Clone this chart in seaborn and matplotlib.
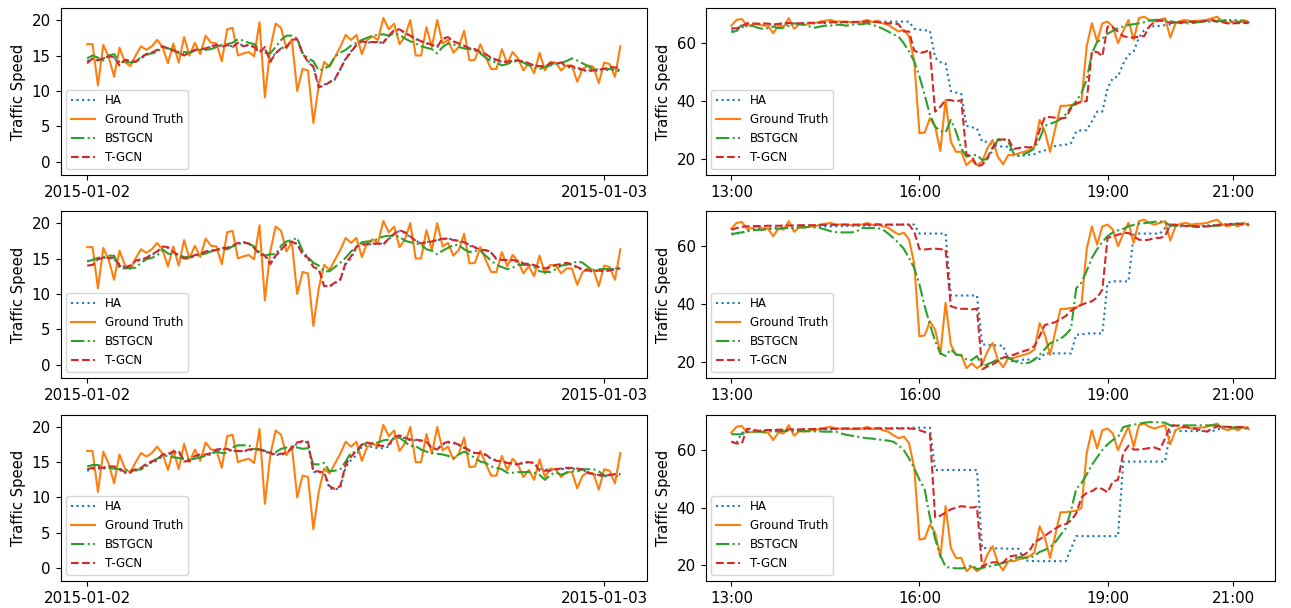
import matplotlib
matplotlib.use("Agg")
import numpy as np
import pandas as pd
import seaborn as sns
import matplotlib.pyplot as plt
import matplotlib.dates as mdates

# ---------------- left column: one day, 15-min steps ----------------
gt_day = [16.6, 16.6, 10.8, 16.5, 14.8, 12.0, 16.1, 14.1, 13.5, 15.0,
          16.3, 15.8, 16.3, 17.2, 16.2, 13.9, 16.7, 14.0, 17.6, 15.0,
          16.8, 15.2, 17.8, 16.8, 16.7, 14.2, 18.7, 18.9, 15.0, 15.3,
          15.5, 14.9, 19.7, 9.1, 16.0, 19.5, 18.9, 16.0, 17.3, 10.0,
          13.1, 12.9, 5.5, 10.8, 14.1, 13.4, 14.8, 16.2, 17.9, 17.2,
          17.9, 15.2, 17.2, 17.7, 17.2, 20.3, 18.7, 19.5, 16.6, 17.7,
          20.0, 15.0, 15.0, 19.0, 16.2, 20.0, 16.7, 17.2, 15.4, 16.2,
          18.5, 14.3, 14.4, 16.6, 14.8, 13.1, 13.1, 15.9, 13.9, 15.5,
          14.6, 12.9, 13.9, 12.5, 15.4, 12.9, 14.1, 14.0, 12.9, 13.6,
          13.6, 11.3, 13.1, 13.6, 13.4, 11.1, 14.0, 13.8, 12.0, 16.3]

ha_day_1 = [14.2, 14.5, 14.4, 14.6, 14.8, 14.7, 13.8, 14.3, 14.3, 14.2,
            14.6, 15.1, 15.3, 15.7, 16.2, 16.0, 15.8, 15.5, 15.1, 15.4,
            15.7, 15.8, 16.0, 16.2, 16.4, 16.3, 16.4, 16.3, 16.7, 16.4,
            16.4, 16.2, 15.6, 15.9, 14.4, 15.4, 16.0, 16.3, 17.1, 17.4,
            15.4, 14.2, 13.5, 10.7, 10.9, 11.3, 11.6, 13.0, 14.6, 15.6,
            16.5, 17.0, 16.8, 16.9, 16.8, 16.9, 17.7, 18.5, 18.6, 18.2,
            17.7, 17.3, 17.0, 16.7, 16.4, 16.3, 17.3, 17.5, 17.0, 16.6,
            16.3, 16.0, 15.8, 15.4, 15.0, 14.6, 14.3, 14.1, 14.0, 14.2,
            14.3, 14.1, 13.8, 13.6, 13.4, 13.4, 13.8, 13.9, 13.9, 13.4,
            13.3, 13.1, 12.9, 12.8, 12.8, 12.8, 12.9, 13.0, 12.9, 12.8]
bst_day_1 = [14.6, 15.0, 14.7, 14.3, 15.0, 15.2, 14.1, 14.2, 14.0, 14.1,
             14.8, 15.2, 15.3, 15.5, 16.2, 16.0, 15.8, 15.3, 15.5, 15.4,
             15.7, 15.8, 15.8, 15.9, 16.2, 16.5, 16.6, 16.8, 17.3, 17.1,
             16.8, 16.6, 15.8, 15.4, 15.3, 16.2, 17.2, 17.8, 17.8, 17.4,
             15.3, 14.6, 14.2, 12.9, 13.1, 13.6, 14.8, 15.4, 15.8, 16.4,
             16.8, 17.2, 17.5, 17.8, 17.9, 18.0, 17.8, 18.1, 17.9, 17.4,
             17.0, 16.7, 16.3, 16.1, 15.9, 15.3, 16.2, 16.7, 16.6, 16.2,
             16.0, 15.9, 15.7, 15.3, 14.7, 14.2, 14.0, 13.6, 13.8, 14.1,
             14.3, 14.0, 13.6, 13.3, 13.1, 13.4, 13.6, 13.8, 14.0, 14.2,
             14.6, 14.3, 13.9, 13.5, 13.0, 13.1, 13.1, 13.1, 13.0, 13.0]
tgcn_day_1 = [13.9, 14.6, 14.3, 14.6, 14.9, 14.8, 13.6, 14.4, 14.3, 14.1,
              14.7, 15.2, 15.4, 15.8, 16.3, 16.0, 15.7, 15.4, 15.0, 15.4,
              15.8, 15.9, 16.0, 16.3, 16.5, 16.2, 16.5, 16.2, 16.8, 16.3,
              16.5, 16.2, 15.4, 16.2, 14.1, 15.3, 16.0, 16.2, 17.2, 17.3,
              15.3, 14.1, 13.4, 10.5, 10.8, 11.2, 11.7, 13.1, 14.5, 15.5,
              16.5, 17.0, 16.9, 16.9, 16.9, 16.8, 17.8, 18.6, 18.7, 18.2,
              17.8, 17.4, 17.0, 16.8, 16.5, 16.2, 17.4, 17.6, 17.0, 16.7,
              16.4, 16.0, 15.9, 15.5, 15.2, 14.7, 14.4, 14.2, 14.1, 14.3,
              14.3, 14.2, 13.9, 13.6, 13.5, 13.5, 13.9, 13.9, 14.0, 13.5,
              13.5, 13.3, 13.0, 12.9, 12.9, 13.0, 13.1, 13.4, 13.3, 13.3]

ha_day_2 = [14.6, 14.8, 15.0, 15.1, 15.0, 14.9, 14.2, 13.8, 14.0, 14.6,
            14.8, 15.0, 15.5, 15.9, 16.6, 16.5, 16.0, 15.5, 15.1, 15.1,
            15.4, 15.6, 15.9, 16.1, 16.3, 16.4, 16.5, 16.7, 17.1, 17.2,
            17.1, 16.6, 15.7, 15.5, 14.5, 15.3, 16.2, 16.9, 17.3, 17.1,
            15.7, 15.0, 13.9, 13.4, 11.2, 11.0, 11.5, 12.1, 14.2, 15.0,
            16.5, 16.9, 17.0, 17.0, 17.1, 17.1, 17.7, 18.4, 18.9, 18.6,
            18.0, 17.5, 17.2, 17.3, 17.5, 17.6, 17.7, 17.8, 17.7, 17.4,
            17.2, 16.8, 16.5, 16.3, 16.1, 15.8, 15.0, 14.9, 14.7, 14.7,
            14.5, 14.4, 14.2, 14.0, 13.8, 13.7, 13.9, 14.0, 14.1, 14.3,
            14.1, 13.7, 13.4, 13.2, 13.2, 13.3, 13.3, 13.4, 13.6, 13.7]
bst_day_2 = [14.6, 14.8, 15.1, 15.2, 15.4, 15.4, 13.7, 13.6, 13.7, 13.7,
             14.4, 14.9, 15.1, 15.4, 16.3, 15.7, 15.6, 15.5, 15.2, 15.2,
             15.4, 15.5, 15.7, 16.0, 16.2, 16.3, 16.3, 16.7, 17.0, 17.3,
             17.1, 16.7, 15.9, 15.4, 15.6, 15.6, 16.8, 17.4, 17.6, 17.9,
             16.1, 15.2, 14.4, 14.0, 13.2, 13.2, 13.8, 14.4, 15.1, 16.0,
             16.6, 17.3, 17.4, 17.4, 17.8, 18.1, 18.2, 18.2, 18.1, 17.5,
             17.3, 17.1, 17.0, 16.3, 16.1, 15.6, 16.1, 16.5, 16.9, 16.9,
             16.3, 15.9, 16.1, 16.1, 15.4, 14.7, 14.1, 13.8, 13.5, 13.7,
             14.1, 14.1, 14.1, 13.8, 13.2, 13.1, 13.1, 13.5, 14.0, 14.1,
             14.3, 14.6, 14.4, 13.8, 13.3, 13.5, 13.5, 13.5, 13.6, 13.6]
tgcn_day_2 = [14.0, 14.1, 14.9, 15.1, 15.1, 15.1, 14.0, 13.7, 14.0, 14.7,
              14.9, 15.1, 15.6, 16.0, 16.7, 16.6, 15.9, 15.4, 15.0, 15.0,
              15.5, 15.6, 16.0, 16.1, 16.2, 16.5, 16.5, 16.8, 17.2, 17.3,
              17.1, 16.5, 15.6, 15.4, 14.2, 15.4, 16.3, 17.0, 17.4, 17.0,
              15.6, 15.1, 13.8, 13.5, 11.1, 11.1, 11.6, 12.0, 14.4, 15.3,
              16.7, 17.0, 17.0, 17.1, 17.1, 17.0, 17.8, 18.5, 19.0, 18.7,
              18.1, 17.5, 17.1, 17.3, 17.4, 17.6, 17.8, 17.8, 17.6, 17.5,
              17.3, 16.9, 16.6, 16.2, 16.2, 15.9, 14.9, 14.8, 14.8, 14.8,
              14.6, 14.3, 14.2, 14.1, 13.7, 13.6, 13.8, 14.1, 14.2, 14.4,
              14.2, 13.8, 13.5, 13.3, 13.3, 13.3, 13.2, 13.3, 13.5, 13.6]

ha_day_3 = [13.8, 14.0, 14.1, 14.1, 14.2, 14.2, 13.9, 13.5, 13.5, 13.8,
            14.0, 14.6, 15.0, 15.2, 15.9, 16.1, 16.3, 16.4, 15.2, 15.2,
            15.7, 15.9, 16.0, 16.2, 16.6, 16.8, 16.8, 16.6, 16.6, 16.5,
            16.7, 16.8, 16.7, 16.5, 16.2, 16.0, 16.1, 16.2, 16.9, 17.7,
            17.9, 17.8, 13.6, 13.6, 13.4, 11.3, 11.1, 11.4, 14.3, 15.3,
            16.0, 17.2, 17.4, 17.1, 17.0, 17.0, 17.2, 18.4, 18.7, 18.4,
            18.1, 18.1, 18.0, 17.8, 17.1, 16.9, 17.5, 17.8, 17.7, 17.4,
            17.0, 16.6, 16.3, 16.2, 16.0, 15.5, 15.3, 15.1, 14.9, 14.8,
            14.6, 14.9, 15.0, 14.9, 14.1, 14.0, 13.9, 14.0, 14.0, 14.1,
            14.1, 14.0, 13.9, 13.5, 13.3, 13.1, 13.0, 13.0, 13.1, 13.0]
bst_day_3 = [14.4, 14.6, 14.6, 14.3, 14.2, 14.1, 14.0, 13.9, 13.9, 13.9,
             14.0, 14.4, 15.1, 15.5, 15.9, 15.9, 15.7, 15.6, 15.5, 15.4,
             15.5, 15.7, 15.9, 16.1, 16.5, 16.3, 16.3, 17.1, 17.4, 17.4,
             17.4, 16.9, 16.8, 16.6, 16.5, 16.4, 16.9, 17.1, 17.1, 17.1,
             16.9, 17.0, 14.7, 14.7, 14.9, 13.7, 13.8, 14.0, 15.1, 16.4,
             16.4, 17.5, 17.7, 17.7, 17.8, 18.1, 18.2, 18.4, 18.5, 17.9,
             17.3, 17.3, 16.8, 16.5, 16.3, 16.2, 16.1, 15.9, 15.6, 16.1,
             16.5, 16.1, 15.6, 15.1, 14.9, 14.4, 14.2, 14.0, 13.5, 13.5,
             13.6, 13.6, 13.6, 13.5, 13.2, 12.5, 13.2, 13.6, 13.2, 13.5,
             13.7, 13.7, 14.0, 14.0, 14.0, 13.7, 13.1, 13.2, 13.3, 13.3]
tgcn_day_3 = [14.0, 14.2, 14.3, 14.2, 14.4, 14.4, 14.1, 13.6, 13.6, 14.0,
              14.2, 14.8, 15.1, 15.4, 16.1, 16.2, 16.5, 16.6, 15.1, 15.2,
              15.9, 16.1, 16.1, 16.3, 16.8, 16.9, 16.9, 16.6, 16.6, 16.6,
              16.8, 16.9, 16.8, 16.6, 16.3, 16.1, 16.2, 16.3, 17.0, 17.8,
              18.0, 17.9, 13.7, 13.7, 13.5, 11.6, 11.2, 11.6, 14.7, 15.8,
              16.6, 17.5, 17.8, 17.6, 17.4, 17.3, 17.5, 18.6, 18.8, 18.5,
              18.2, 18.2, 18.1, 17.9, 17.0, 16.8, 17.6, 17.9, 17.8, 17.5,
              17.1, 16.7, 16.3, 16.3, 16.1, 15.5, 15.2, 15.1, 14.9, 14.8,
              14.7, 15.0, 15.0, 14.9, 13.8, 13.8, 13.8, 14.0, 14.1, 14.2,
              14.2, 14.1, 14.0, 13.5, 13.3, 13.2, 13.1, 13.2, 13.3, 13.3]

# ---------------- right column: afternoon, 5-min steps ----------------
gt_eve = [66.1, 68.1, 68.4, 66.1, 66.3, 66.9, 66.1, 66.1, 63.5, 66.1,
          65.8, 68.7, 65.0, 66.6, 66.4, 66.9, 66.9, 67.5, 67.8, 68.1,
          67.5, 67.5, 67.5, 67.3, 67.3, 67.5, 68.1, 67.3, 67.8, 66.9,
          66.4, 65.2, 64.1, 64.7, 62.4, 53.9, 28.9, 29.2, 34.1, 31.2,
          22.8, 40.5, 26.0, 22.5, 22.5, 17.9, 19.6, 17.9, 19.1, 23.7,
          26.6, 20.8, 18.2, 21.4, 21.4, 22.0, 22.5, 23.1, 24.3, 33.5,
          29.5, 22.5, 30.6, 38.4, 38.4, 38.7, 38.9, 39.9, 58.9, 66.9,
          60.6, 66.9, 67.5, 65.8, 60.0, 64.3, 68.1, 61.2, 68.7, 69.2,
          68.1, 67.5, 68.1, 68.7, 62.0, 66.9, 67.8, 68.1, 67.5, 67.8,
          67.8, 68.1, 68.7, 69.2, 67.5, 66.9, 67.5, 66.9, 68.1, 67.3]

ha_eve_1 = [64.5, 64.5, 65.5, 66.3, 66.3, 66.5, 66.5, 66.5, 66.5, 66.3,
            66.3, 66.5, 66.5, 66.8, 66.8, 66.8, 67.0, 67.0, 67.0, 67.2,
            67.2, 67.2, 67.2, 67.3, 67.3, 67.3, 67.5, 67.5, 67.5, 67.5,
            67.5, 67.5, 67.5, 67.5, 67.5, 65.0, 64.7, 64.5, 64.3, 55.0,
            53.5, 53.0, 43.5, 43.0, 42.5, 31.5, 31.0, 30.6, 26.0, 26.0,
            24.8, 24.5, 24.3, 24.3, 21.2, 21.2, 21.2, 21.5, 21.7, 22.5,
            23.0, 24.0, 24.5, 24.8, 25.0, 25.5, 29.5, 30.0, 30.0, 33.0,
            36.4, 36.4, 44.5, 48.0, 48.5, 53.0, 56.0, 57.2, 62.0, 64.5,
            65.5, 66.0, 66.0, 66.3, 66.5, 66.8, 67.0, 67.3, 67.5, 67.5,
            67.8, 67.8, 68.0, 68.0, 68.0, 68.0, 68.0, 68.0, 67.8, 67.5]
bst_eve_1 = [63.8, 64.3, 66.4, 65.8, 66.1, 65.4, 65.0, 65.2, 65.8, 65.2,
             65.4, 66.1, 66.9, 66.6, 66.4, 65.8, 65.4, 65.8, 66.1, 66.1,
             66.4, 66.4, 66.1, 66.4, 66.6, 66.6, 66.9, 66.4, 65.8, 65.0,
             64.1, 63.1, 62.3, 60.0, 57.2, 53.7, 48.5, 42.2, 35.3, 31.2,
             29.7, 29.2, 33.5, 29.5, 23.7, 20.8, 21.4, 21.4, 19.7, 20.0,
             23.0, 26.8, 27.0, 26.0, 22.0, 21.2, 21.7, 22.5, 23.7, 27.0,
             31.5, 32.2, 32.8, 33.8, 35.5, 38.0, 40.0, 42.8, 47.5, 56.5,
             60.5, 61.5, 63.3, 64.3, 65.2, 65.8, 66.3, 66.6, 66.9, 67.3,
             67.8, 68.1, 68.1, 68.0, 67.6, 67.3, 67.0, 66.9, 66.9, 67.2,
             67.5, 67.5, 67.5, 67.6, 67.8, 67.8, 67.5, 67.5, 67.5, 67.3]
tgcn_eve_1 = [65.2, 65.2, 66.0, 66.9, 66.9, 66.7, 66.9, 66.8, 66.5, 66.7,
              67.0, 67.0, 66.9, 66.9, 67.0, 67.1, 67.1, 67.2, 67.2, 67.3,
              67.3, 67.3, 67.4, 67.4, 67.4, 67.5, 67.5, 67.5, 67.3, 67.0,
              66.9, 66.9, 66.6, 64.1, 64.1, 57.5, 56.6, 57.0, 57.7, 36.4,
              38.1, 40.4, 40.4, 39.8, 40.4, 21.5, 21.0, 17.5, 18.0, 20.5,
              24.0, 26.5, 26.8, 27.0, 23.5, 23.8, 24.2, 24.0, 24.5, 30.0,
              34.5, 34.5, 34.3, 34.0, 34.3, 37.5, 39.3, 39.8, 40.0, 57.2,
              57.0, 55.5, 65.8, 65.5, 64.0, 62.5, 62.0, 62.0, 62.3, 62.5,
              65.8, 67.5, 67.8, 67.8, 67.0, 67.2, 67.3, 67.3, 67.5, 67.5,
              67.5, 67.8, 68.0, 67.5, 67.3, 66.9, 66.9, 67.0, 67.0, 67.0]

ha_eve_2 = [64.4, 64.4, 64.6, 65.5, 66.0, 66.0, 66.2, 66.2, 66.3, 66.3,
            66.5, 66.5, 66.5, 66.7, 66.7, 66.7, 66.8, 66.8, 66.9, 66.9,
            66.9, 67.0, 67.0, 67.0, 67.1, 67.1, 67.2, 67.2, 67.3, 67.3,
            67.4, 67.4, 67.5, 67.5, 67.5, 67.5, 64.4, 64.4, 64.4, 64.4,
            64.4, 64.4, 43.0, 43.0, 43.0, 43.0, 43.0, 43.0, 26.1, 26.0,
            25.8, 25.7, 25.7, 20.5, 20.3, 20.5, 20.9, 20.9, 21.0, 21.1,
            23.0, 23.0, 23.0, 23.0, 23.0, 23.0, 29.5, 29.5, 29.9, 29.9,
            29.9, 29.9, 47.4, 47.9, 47.9, 47.9, 47.9, 64.0, 64.4, 64.4,
            64.4, 64.4, 64.4, 66.3, 66.9, 66.9, 66.9, 67.0, 67.0, 67.1,
            67.1, 67.2, 67.3, 67.5, 67.5, 67.6, 67.8, 67.8, 67.8, 67.5]
bst_eve_2 = [64.0, 64.6, 64.8, 65.2, 65.5, 65.7, 65.7, 66.0, 66.0, 66.1,
             66.3, 66.3, 66.3, 66.5, 66.6, 66.7, 66.5, 66.3, 65.8, 65.2,
             64.9, 64.8, 64.8, 64.8, 65.2, 66.3, 66.3, 66.3, 66.3, 65.8,
             64.4, 62.9, 61.2, 59.1, 56.0, 52.5, 46.8, 39.3, 33.0, 27.2,
             23.0, 22.1, 24.4, 22.6, 22.3, 20.9, 20.7, 22.1, 18.6, 19.2,
             20.0, 21.0, 21.5, 21.5, 20.5, 19.7, 19.5, 19.8, 20.8, 22.5,
             24.5, 26.5, 27.2, 28.0, 29.5, 31.5, 45.5, 47.5, 51.5, 56.0,
             59.0, 61.5, 63.5, 64.8, 65.5, 66.0, 66.9, 67.4, 67.8, 68.0,
             68.2, 68.5, 68.6, 68.3, 67.2, 67.1, 67.1, 67.1, 67.0, 67.0,
             66.9, 66.9, 67.0, 67.1, 67.3, 67.5, 67.6, 67.8, 67.8, 67.8]
tgcn_eve_2 = [65.7, 66.3, 66.7, 66.9, 67.0, 67.0, 67.0, 67.1, 67.1, 67.1,
              67.2, 67.2, 67.2, 67.3, 67.3, 67.3, 67.3, 67.4, 67.4, 67.4,
              67.4, 67.5, 67.5, 67.5, 67.5, 67.5, 67.5, 67.5, 67.5, 67.5,
              67.5, 67.5, 67.5, 67.5, 67.5, 65.0, 59.0, 58.9, 59.1, 59.2,
              59.0, 58.9, 39.3, 38.7, 38.4, 38.4, 38.2, 38.4, 17.5, 18.5,
              19.2, 20.3, 21.5, 22.1, 22.5, 23.2, 23.8, 24.4, 25.5, 29.0,
              32.8, 33.3, 33.8, 34.8, 35.9, 37.8, 38.8, 39.8, 40.5, 41.0,
              42.3, 45.0, 62.9, 63.4, 64.0, 64.6, 64.6, 63.5, 62.3, 62.1,
              62.3, 62.9, 62.9, 63.5, 67.5, 67.5, 67.3, 67.0, 66.9, 66.7,
              66.7, 66.9, 67.1, 67.3, 67.5, 67.5, 67.8, 67.8, 67.5, 67.5]

ha_eve_3 = [62.9, 62.5, 66.0, 66.5, 66.6, 66.6, 66.7, 66.7, 66.8, 66.8,
            66.9, 66.9, 67.0, 67.0, 67.0, 67.1, 67.1, 67.2, 67.2, 67.2,
            67.3, 67.3, 67.3, 67.4, 67.4, 67.4, 67.5, 67.5, 67.5, 67.6,
            67.6, 67.6, 67.7, 67.7, 67.7, 67.8, 67.8, 67.8, 67.8, 53.1,
            53.1, 53.1, 53.1, 53.1, 53.1, 53.1, 53.1, 53.1, 25.9, 26.0,
            25.9, 25.8, 25.8, 25.7, 25.7, 25.7, 21.7, 21.5, 21.4, 21.4,
            21.4, 21.4, 21.4, 21.4, 21.4, 25.7, 30.1, 30.1, 30.1, 30.1,
            30.1, 30.1, 30.1, 30.1, 30.1, 56.0, 56.0, 56.0, 56.0, 56.0,
            56.0, 56.0, 56.0, 56.0, 66.6, 66.6, 66.6, 66.6, 66.6, 66.6,
            66.6, 66.6, 66.6, 67.1, 67.8, 67.8, 67.8, 67.8, 67.8, 67.4]
bst_eve_3 = [65.5, 65.5, 65.5, 66.3, 66.3, 66.4, 66.4, 66.5, 66.5, 66.5,
             66.6, 66.6, 66.6, 66.6, 66.6, 66.5, 66.5, 66.5, 66.4, 66.4,
             66.4, 65.8, 65.3, 65.0, 64.7, 64.4, 64.1, 64.0, 63.7, 63.5,
             63.3, 62.9, 61.7, 60.0, 57.1, 53.7, 49.7, 46.3, 36.6, 29.1,
             23.4, 19.4, 19.1, 18.9, 18.9, 19.1, 20.0, 18.6, 19.1, 19.4,
             19.8, 20.3, 20.8, 21.3, 22.2, 22.8, 22.6, 22.5, 23.2, 24.6,
             25.3, 26.3, 28.0, 30.5, 32.8, 39.0, 46.5, 48.5, 51.5, 54.9,
             57.5, 60.0, 62.0, 63.5, 64.6, 68.0, 68.5, 68.8, 69.2, 69.5,
             69.7, 69.7, 69.7, 69.5, 68.6, 68.6, 68.6, 68.6, 68.6, 68.6,
             68.6, 68.6, 68.6, 68.6, 68.2, 68.0, 67.9, 67.8, 67.6, 67.4]
tgcn_eve_3 = [62.9, 62.3, 62.3, 67.4, 67.4, 66.6, 66.9, 67.0, 67.0, 67.1,
              67.1, 67.2, 67.2, 67.2, 67.3, 67.3, 67.3, 67.4, 67.4, 67.4,
              67.4, 67.5, 67.5, 67.5, 67.5, 67.5, 67.5, 67.5, 67.5, 67.5,
              67.5, 67.5, 67.5, 67.5, 67.5, 67.4, 66.9, 66.3, 65.7, 36.6,
              37.2, 38.3, 39.4, 40.0, 40.5, 40.3, 40.0, 40.3, 19.4, 20.5,
              21.0, 21.0, 20.8, 22.9, 23.3, 23.4, 23.6, 24.8, 28.0, 29.0,
              30.2, 31.5, 32.7, 33.8, 34.3, 35.5, 38.0, 43.5, 45.1, 45.7,
              46.9, 46.5, 45.3, 49.0, 49.7, 59.0, 61.5, 60.2, 60.2, 60.4,
              60.7, 60.9, 60.2, 64.0, 68.3, 68.6, 68.2, 68.0, 67.6, 67.3,
              66.9, 66.4, 67.5, 68.2, 68.2, 68.1, 68.0, 68.0, 68.0, 67.8]

day_times = pd.date_range("2015-01-02 00:00", periods=len(gt_day), freq="15min")
eve_times = pd.date_range("2015-01-02 13:00", periods=len(gt_eve), freq="5min")
eve_ticks = pd.to_datetime(["2015-01-02 13:00", "2015-01-02 16:00",
                            "2015-01-02 19:00", "2015-01-02 21:00"])

plt.rcParams["font.size"] = 10.8


def draw(ax, times, ha, gt, bst, tgcn):
    # same order as the legend in the figure
    sns.lineplot(x=times, y=ha, ax=ax, color="C0", linestyle=":", label="HA")
    sns.lineplot(x=times, y=gt, ax=ax, color="C1", linestyle="-", label="Ground Truth")
    sns.lineplot(x=times, y=bst, ax=ax, color="C2", linestyle="-.", label="BSTGCN")
    sns.lineplot(x=times, y=tgcn, ax=ax, color="C3", linestyle="--", label="T-GCN")
    ax.legend(loc="lower left", fontsize=8.6)
    ax.set_ylabel("Traffic Speed", fontsize=10.6)
    ax.set_xlabel("")


W, H = 1291, 608
fig = plt.figure(figsize=(W / 100, H / 100), dpi=100)
rows = [(8, 175), (211, 378), (415, 581)]
day_sets = [(ha_day_1, bst_day_1, tgcn_day_1),
            (ha_day_2, bst_day_2, tgcn_day_2),
            (ha_day_3, bst_day_3, tgcn_day_3)]
eve_sets = [(ha_eve_1, bst_eve_1, tgcn_eve_1),
            (ha_eve_2, bst_eve_2, tgcn_eve_2),
            (ha_eve_3, bst_eve_3, tgcn_eve_3)]

for (top, bot), (ha, bst, tg), (ha2, bst2, tg2) in zip(rows, day_sets, eve_sets):
    b = 1 - bot / H
    h = (bot - top) / H
    axl = fig.add_axes([60.5 / W, b, 586.5 / W, h])
    draw(axl, day_times, ha, gt_day, bst, tg)
    axl.set_ylim(-1.85, 21.7)
    axl.set_yticks([0, 5, 10, 15, 20])
    axl.xaxis.set_major_locator(mdates.DayLocator())
    axl.xaxis.set_major_formatter(mdates.DateFormatter("%Y-%m-%d"))

    axr = fig.add_axes([705.5 / W, b, 569 / W, h])
    draw(axr, eve_times, ha2, gt_eve, bst2, tg2)
    axr.set_ylim(14.5, 72.2)
    axr.set_yticks([20, 40, 60])
    axr.set_xticks(eve_ticks)
    axr.xaxis.set_major_formatter(mdates.DateFormatter("%H:%M"))

fig.savefig("out.png", dpi=100)
